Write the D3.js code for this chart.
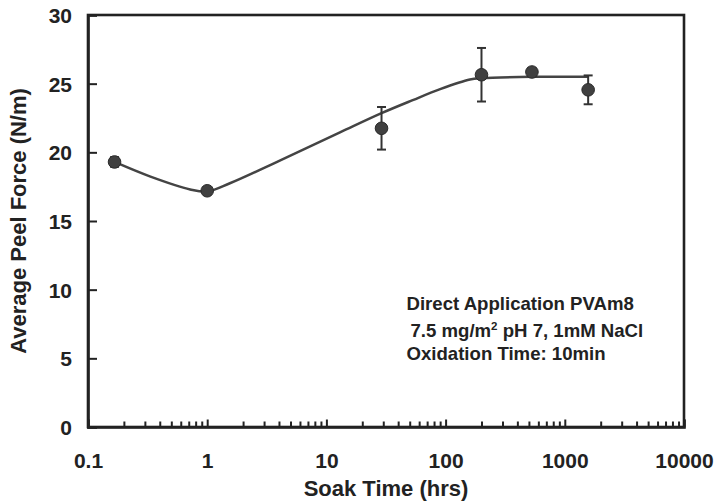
<!DOCTYPE html>
<html>
<head>
<meta charset="utf-8">
<script src="https://cdn.jsdelivr.net/npm/d3@7"></script>
<style>
  body { margin: 0; background: #fff; }
  text { font-family: "Liberation Sans", Arial, sans-serif; font-weight: bold; fill: #222; }
</style>
</head>
<body>
<div id="plot"></div>
<script>
// Measured points (soak time in hrs, peel force in N/m, error bar half-length)
const soakTime = [0.167, 1, 29, 200, 530, 1570];
const peelForce = [19.3, 17.2, 21.75, 25.65, 25.85, 24.55];
const peelError = [0.35, 0.15, 1.55, 1.95, 0.3, 1.05];

// Fitted curve
const fitTime = [0.167, 0.33, 0.72, 1, 1.55, 4.06, 13, 29, 53, 90, 160, 200, 530, 1570];
const fitForce = [19.3, 18.25, 17.3, 17.15, 17.75, 19.4, 21.45, 22.85, 23.8, 24.6, 25.3, 25.4, 25.5, 25.5];

// Tick labels
const xTicks = [0.1, 1, 10, 100, 1000, 10000];
const xTickLabels = ["0.1", "1", "10", "100", "1000", "10000"];
const yTicks = [0, 5, 10, 15, 20, 25, 30];

// The SVG dimensions
const margin = {top: 15, right: 35, bottom: 77, left: 88},
  width = 719 - margin.left - margin.right,
  height = 504 - margin.top - margin.bottom;

const x = d3.scaleLog().domain([0.1, 10000]).range([0, width]);
const y = d3.scaleLinear().domain([0, 30]).range([height, 0]);

const svg = d3.select("#plot")
  .append("svg")
  .attr("width", width + margin.left + margin.right)
  .attr("height", height + margin.top + margin.bottom)
  .append("g")
  .attr("transform", `translate(${margin.left},${margin.top})`);

// minor ticks 2..9 in every decade
const minorTicks = [];
xTicks.slice(0, -1).forEach(d => {
  for (let k = 2; k <= 9; k++) minorTicks.push(d * k);
});

// Frame (top and right)
svg.append("rect")
  .attr("width", width)
  .attr("height", height)
  .attr("fill", "none")
  .attr("stroke", "#222")
  .attr("stroke-width", 2.6);

// X axis minor ticks
svg.append("g")
  .attr("transform", `translate(0,${height})`)
  .call(d3.axisBottom(x).tickValues(minorTicks).tickSize(-5.5).tickFormat(""))
  .call(g => g.select(".domain").remove())
  .call(g => g.selectAll("line").attr("stroke", "#222").attr("stroke-width", 2));

// X axis major ticks and labels
svg.append("g")
  .attr("transform", `translate(0,${height})`)
  .call(d3.axisBottom(x).tickValues(xTicks).tickSize(-7.5)
    .tickFormat((d, i) => xTickLabels[i]))
  .call(g => g.select(".domain").attr("stroke", "#222").attr("stroke-width", 2.6))
  .call(g => g.selectAll("line").attr("stroke", "#222").attr("stroke-width", 2))
  .call(g => g.selectAll("text")
    .attr("y", 41).attr("dy", 0)
    .style("font-size", "21px").attr("fill", "#222"));

// Y axis
svg.append("g")
  .call(d3.axisLeft(y).tickValues(yTicks).tickSize(-9).tickPadding(16))
  .call(g => g.select(".domain").attr("stroke", "#222").attr("stroke-width", 2.6))
  .call(g => g.selectAll("line").attr("stroke", "#222").attr("stroke-width", 2))
  .call(g => g.selectAll("text")
    .attr("x", -16).attr("dy", "0.36em")
    .style("font-size", "21px").attr("fill", "#222"));

// Fitted curve
const fitLine = d3.line()
  .x(d => x(d[0]))
  .y(d => y(d[1]))
  .curve(d3.curveCatmullRom.alpha(0.5));

svg.append("path")
  .datum(fitTime.map((t, i) => [t, fitForce[i]]))
  .attr("d", fitLine)
  .attr("fill", "none")
  .attr("stroke", "#444")
  .attr("stroke-width", 2.5);

const points = soakTime.map((t, i) => ({t, f: peelForce[i], e: peelError[i]}));

// Error bars
const bars = svg.selectAll(".err")
  .data(points)
  .enter()
  .append("g")
  .attr("class", "err")
  .attr("stroke", "#333")
  .attr("stroke-width", 2);

bars.append("line")
  .attr("x1", d => x(d.t)).attr("x2", d => x(d.t))
  .attr("y1", d => y(d.f - d.e)).attr("y2", d => y(d.f + d.e));
bars.append("line")
  .attr("x1", d => x(d.t) - 4.5).attr("x2", d => x(d.t) + 4.5)
  .attr("y1", d => y(d.f + d.e)).attr("y2", d => y(d.f + d.e));
bars.append("line")
  .attr("x1", d => x(d.t) - 4.5).attr("x2", d => x(d.t) + 4.5)
  .attr("y1", d => y(d.f - d.e)).attr("y2", d => y(d.f - d.e));

// Markers
svg.selectAll(".pt")
  .data(points)
  .enter()
  .append("circle")
  .attr("class", "pt")
  .attr("cx", d => x(d.t))
  .attr("cy", d => y(d.f))
  .attr("r", 6.3)
  .attr("fill", "#404040")
  .attr("stroke", "#2a2a2a")
  .attr("stroke-width", 1);

// Axis titles
svg.append("text")
  .attr("x", width / 2)
  .attr("y", height + 69)
  .attr("text-anchor", "middle")
  .style("font-size", "22px")
  .text("Soak Time (hrs)");

svg.append("text")
  .attr("transform", `translate(${-62},${height / 2}) rotate(-90)`)
  .attr("text-anchor", "middle")
  .style("font-size", "22px")
  .text("Average Peel Force (N/m)");

// Annotation
const note = svg.append("g")
  .attr("transform", `translate(${406.5 - margin.left},0)`)
  .style("font-size", "18.6px");

note.append("text").attr("y", 310 - margin.top).text("Direct Application PVAm8");
const line2 = note.append("text").attr("x", 4).attr("y", 337 - margin.top);
line2.append("tspan").text("7.5 mg/m");
line2.append("tspan").attr("dy", -7).style("font-size", "11.5px").text("2");
line2.append("tspan").attr("dy", 7).text(" pH 7, 1mM NaCl");
note.append("text").attr("y", 360 - margin.top).text("Oxidation Time: 10min");
</script>
</body>
</html>
